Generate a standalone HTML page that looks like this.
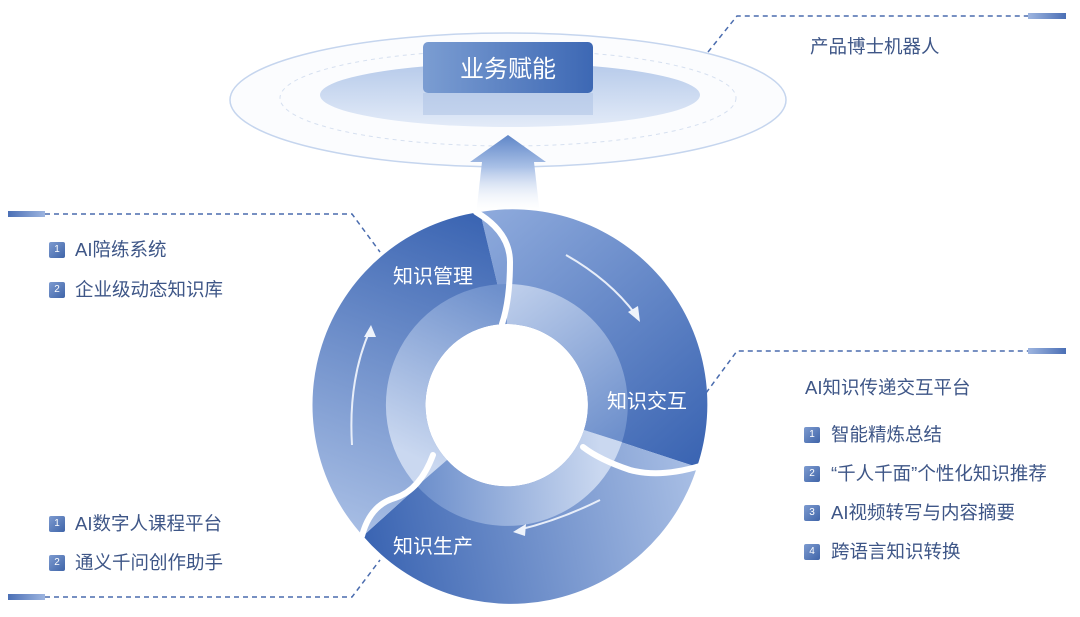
<!DOCTYPE html>
<html><head><meta charset="utf-8"><style>
body{margin:0;width:1080px;height:617px;background:#fff;overflow:hidden;font-family:"Liberation Sans","Noto Sans CJK SC",sans-serif;position:relative}
.t{position:absolute;color:#3e5687;font-size:18.5px;white-space:nowrap;line-height:22px}
.b{position:absolute;width:16px;height:16px;border-radius:2px;background:linear-gradient(135deg,#7d9bd0,#3f64a8);color:#fff;font-size:10px;line-height:16px;text-align:center}
</style></head><body>
<svg width="1080" height="617" style="position:absolute;left:0;top:0">
<defs>
<linearGradient id="box" x1="0" x2="1"><stop offset="0" stop-color="#7b9dd2"/><stop offset="1" stop-color="#3d68b4"/></linearGradient>
<linearGradient id="el" x1="0" y1="0" x2="0" y2="1"><stop offset="0" stop-color="#b6caea"/><stop offset="1" stop-color="#e3ebf8"/></linearGradient>
<linearGradient id="ar" x1="0" y1="0" x2="0" y2="1"><stop offset="0" stop-color="#5f86c8"/><stop offset="0.4" stop-color="#a9c0e6"/><stop offset="1" stop-color="#fff" stop-opacity="0"/></linearGradient>
<linearGradient id="bar" x1="0" x2="1"><stop offset="0" stop-color="#4b6fb5"/><stop offset="1" stop-color="#9db5e0"/></linearGradient>
<linearGradient id="bar2" x1="0" x2="1"><stop offset="0" stop-color="#9db5e0"/><stop offset="1" stop-color="#4b6fb5"/></linearGradient>
<linearGradient id="s1" gradientUnits="userSpaceOnUse" x1="480" y1="215" x2="697" y2="467"><stop offset="0" stop-color="#8eaadc"/><stop offset="1" stop-color="#3a64b2"/></linearGradient>
<linearGradient id="s2" gradientUnits="userSpaceOnUse" x1="697" y1="467" x2="363" y2="533"><stop offset="0" stop-color="#a9bfe5"/><stop offset="1" stop-color="#3a64b2"/></linearGradient>
<linearGradient id="s3" gradientUnits="userSpaceOnUse" x1="363" y1="540" x2="480" y2="215"><stop offset="0" stop-color="#a9bfe5"/><stop offset="1" stop-color="#3a64b2"/></linearGradient>
<linearGradient id="i1" gradientUnits="userSpaceOnUse" x1="480" y1="290" x2="600" y2="450"><stop offset="0" stop-color="#c5d4ee"/><stop offset="1" stop-color="#6e90cc"/></linearGradient>
<linearGradient id="i2" gradientUnits="userSpaceOnUse" x1="600" y1="450" x2="420" y2="460"><stop offset="0" stop-color="#cad8f0"/><stop offset="1" stop-color="#6e90cc"/></linearGradient>
<linearGradient id="i3" gradientUnits="userSpaceOnUse" x1="420" y1="460" x2="500" y2="290"><stop offset="0" stop-color="#cad8f0"/><stop offset="1" stop-color="#6e90cc"/></linearGradient>
</defs>
<ellipse cx="508" cy="100" rx="278" ry="67" fill="#fbfcfe" stroke="#c5d5ee" stroke-width="1.5"/>
<ellipse cx="508" cy="98" rx="228" ry="48" fill="none" stroke="#d6e0f0" stroke-width="1" stroke-dasharray="4 4"/>
<ellipse cx="510" cy="95" rx="190" ry="32" fill="url(#el)"/>
<rect x="423" y="93" width="170" height="22" fill="#a9bfe4" opacity="0.5"/>
<rect x="423" y="42" width="170" height="51" rx="5" fill="url(#box)"/>
<text x="508" y="77" fill="#fff" font-size="24" text-anchor="middle" font-family="Liberation Sans,Noto Sans CJK SC,sans-serif">业务赋能</text>
<path d="M508 135 L546 162 L534 162 L540 215 L476 215 L482 162 L470 162 Z" fill="url(#ar)"/>
<g stroke="#4a6cae" stroke-width="1.5" fill="none" stroke-dasharray="5 4">
<path d="M708 52 L737 16 L1028 16"/>
<path d="M45 214 L352 214 L380 252"/>
<path d="M45 597 L352 597 L380 560"/>
<path d="M706 393 L737 351 L1028 351"/>
</g>
<rect x="1028" y="13" width="38" height="6" fill="url(#bar2)"/>
<rect x="1028" y="348" width="38" height="6" fill="url(#bar2)"/>
<rect x="8" y="211" width="37" height="6" fill="url(#bar)"/>
<rect x="8" y="594" width="37" height="6" fill="url(#bar)"/>
<path d="M480 212 A195 195 0 0 1 697 467 L584 430 A81 81 0 0 0 507 324 Z" fill="url(#s1)"/>
<path d="M697 467 A195 195 0 0 1 363 536 L447 460 A81 81 0 0 0 584 430 Z" fill="url(#s2)"/>
<path d="M363 536 A195 195 0 0 1 480 212 L507 324 A81 81 0 0 0 447 460 Z" fill="url(#s3)"/>
<path d="M507 284 A121 121 0 0 1 622 442 L584 430 A81 81 0 0 0 507 324 Z" fill="url(#i1)"/>
<path d="M622 442 A121 121 0 0 1 417 486 L447 460 A81 81 0 0 0 584 430 Z" fill="url(#i2)"/>
<path d="M417 486 A121 121 0 0 1 507 284 L507 324 A81 81 0 0 0 447 460 Z" fill="url(#i3)"/>
<circle cx="507" cy="405" r="80" fill="#fff"/>
<g stroke="#fff" stroke-width="6" fill="none" stroke-linecap="round">
<path d="M476 212 Q510 232 510 262 Q510 300 502 324"/>
<path d="M700 466 Q660 478 630 470 Q600 460 583 447"/>
<path d="M362 536 Q370 505 395 498 Q420 490 433 455"/>
</g>
<g stroke="#e8eef9" stroke-width="2" fill="none">
<path d="M566 255 Q610 280 636 315"/>
<path d="M600 500 Q560 520 518 530"/>
<path d="M352 445 Q348 380 370 330"/>
</g>
<g fill="#eef3fb">
<path d="M640 322 L628 312 L638 306 Z"/>
<path d="M513 532 L526 524 L525 536 Z"/>
<path d="M371 325 L364 337 L376 337 Z"/>
</g>
<g fill="#fff" font-size="20" font-family="Liberation Sans,Noto Sans CJK SC,sans-serif">
<text x="393" y="283">知识管理</text>
<text x="607" y="408">知识交互</text>
<text x="393" y="553">知识生产</text>
</g>
</svg>
<div class="t" style="left:810px;top:36px">产品博士机器人</div>
<div class="b" style="left:49px;top:242px">1</div><div class="t" style="left:75px;top:239px">AI陪练系统</div>
<div class="b" style="left:49px;top:282px">2</div><div class="t" style="left:75px;top:279px">企业级动态知识库</div>
<div class="b" style="left:49px;top:516px">1</div><div class="t" style="left:75px;top:513px">AI数字人课程平台</div>
<div class="b" style="left:49px;top:555px">2</div><div class="t" style="left:75px;top:552px">通义千问创作助手</div>
<div class="t" style="left:805px;top:377px">AI知识传递交互平台</div>
<div class="b" style="left:804px;top:427px">1</div><div class="t" style="left:831px;top:424px">智能精炼总结</div>
<div class="b" style="left:804px;top:466px">2</div><div class="t" style="left:831px;top:463px">“千人千面”个性化知识推荐</div>
<div class="b" style="left:804px;top:505px">3</div><div class="t" style="left:831px;top:502px">AI视频转写与内容摘要</div>
<div class="b" style="left:804px;top:544px">4</div><div class="t" style="left:831px;top:541px">跨语言知识转换</div>
</body></html>
